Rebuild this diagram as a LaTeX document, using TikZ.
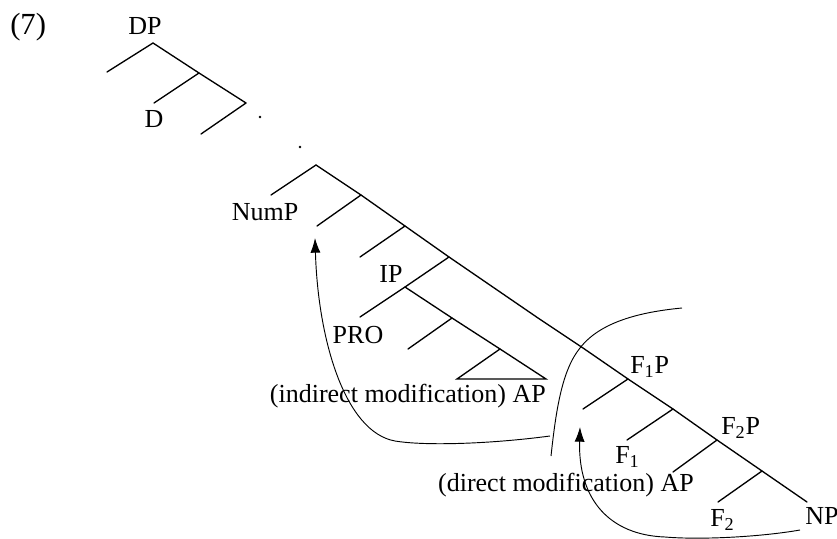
\documentclass[tikz,border=0pt]{standalone}
\usepackage{fontspec}
\setmainfont{Liberation Serif}
\usetikzlibrary{arrows.meta}
\begin{document}
\begin{tikzpicture}[x=0.75pt,y=-0.75pt,
  br/.style={line width=1pt, line cap=round},
  mov/.style={line width=0.7pt},
  arr/.style={mov,-{Latex[length=11pt,width=7.5pt]}},
  lab/.style={inner sep=0pt, font=\fontsize{19.5}{23}\selectfont},
  biglab/.style={inner sep=0pt, font=\fontsize{23}{27}\selectfont},
  dot/.style={circle, fill, inner sep=0pt, minimum size=2.2pt}
]
\useasboundingbox (0,0) rectangle (837,538);
% ---------- top tree ----------
\coordinate (T0) at (153,43);
\coordinate (TL) at (107,72);
\coordinate (T1) at (199,73);
\coordinate (TD) at (154,103);
\coordinate (T2) at (246,103);
\coordinate (T2L) at (201,134);
\draw[br] (TL) -- (T0) -- (T1) -- (T2);
\draw[br] (T1) -- (TD);
\draw[br] (T2) -- (T2L);
\node[dot] (d1) at (260,117) {};
\node[dot] (d2) at (300,147) {};
% ---------- main spine ----------
\coordinate (S0) at (316,165);
\coordinate (S1) at (361,195);
\coordinate (S2) at (405,226);
\coordinate (S3) at (449,257);
\coordinate (S5) at (538,318);
\coordinate (S6) at (583,348);
\coordinate (S7) at (628,379);
\coordinate (S8) at (673,409);
\coordinate (S9) at (717,440);
\coordinate (S10) at (762,471);
\coordinate (S11) at (807,502);
\draw[br] (S0) -- (S1) -- (S2) -- (S3) -- (S5) -- (S6) -- (S7) -- (S8) -- (S9) -- (S10) -- (S11);
% branches
\coordinate (B0) at (271,195);
\coordinate (B1) at (317,226);
\coordinate (B2) at (360,257);
\coordinate (IPn) at (405,287);
\coordinate (PROe) at (360,317);
\coordinate (A1) at (452,318);
\coordinate (A1L) at (408,349);
\coordinate (A2) at (500,349);
\coordinate (TB1) at (457,379);
\coordinate (TB2) at (546,379);
\coordinate (B7) at (583,409);
\coordinate (B8) at (627,440);
\coordinate (B9) at (673,472);
\coordinate (B10) at (718,502);
\draw[br] (S0) -- (B0);
\draw[br] (S1) -- (B1);
\draw[br] (S2) -- (B2);
\draw[br] (S3) -- (IPn) -- (PROe);
\draw[br] (IPn) -- (A1) -- (A2);
\draw[br] (A1) -- (A1L);
\draw[br] (A2) -- (TB2) -- (TB1) -- cycle;
\draw[br] (S7) -- (B7);
\draw[br] (S8) -- (B8);
\draw[br] (S9) -- (B9);
\draw[br] (S10) -- (B10);
% ---------- labels ----------
\node[biglab, anchor=base west] (ex) at (10,35) {(7)};
\node[lab, anchor=base] (DP) at (145,35) {DP};
\node[lab, anchor=base] (D) at (154,128) {D};
\node[lab, anchor=base] (NumP) at (265,220) {NumP};
\node[lab, anchor=base] (IP) at (391,282) {IP};
\node[lab, anchor=base] (PRO) at (358,343) {PRO};
\node[lab, anchor=base east] (indAP) at (546,402) {(indirect modification) AP};
\node[lab, anchor=base west] (F1P) at (630,373) {F\textsubscript{1}P};
\node[lab, anchor=base west] (F1) at (615,463) {F\textsubscript{1}};
\node[lab, anchor=base east] (dirAP) at (694,491) {(direct modification) AP};
\node[lab, anchor=base west] (F2P) at (721,434) {F\textsubscript{2}P};
\node[lab, anchor=base west] (F2) at (710,526) {F\textsubscript{2}};
\node[lab, anchor=base west] (NP) at (805,524) {NP};
% ---------- movement curves ----------
\coordinate (Astart) at (550,436);
\coordinate (Amid) at (395,441);
\coordinate (Atip) at (315,238);
\draw[arr] (Astart) .. controls (490,444) and (425,446) .. (Amid)
  .. controls (345,432) and (318,340) .. (Atip);
\coordinate (Bstart) at (551,456);
\coordinate (Bmid) at (580,348);
\coordinate (Bend) at (682,308);
\draw[mov] (Bstart) .. controls (556,410) and (562,370) .. (Bmid)
  .. controls (600,322) and (640,312) .. (Bend);
\coordinate (Cstart) at (800,530);
\coordinate (Cmid) at (665,537);
\coordinate (Ctip) at (580,427);
\draw[arr] (Cstart) .. controls (760,537) and (700,540) .. (Cmid)
  .. controls (610,535) and (578,500) .. (Ctip);
\end{tikzpicture}
\end{document}
